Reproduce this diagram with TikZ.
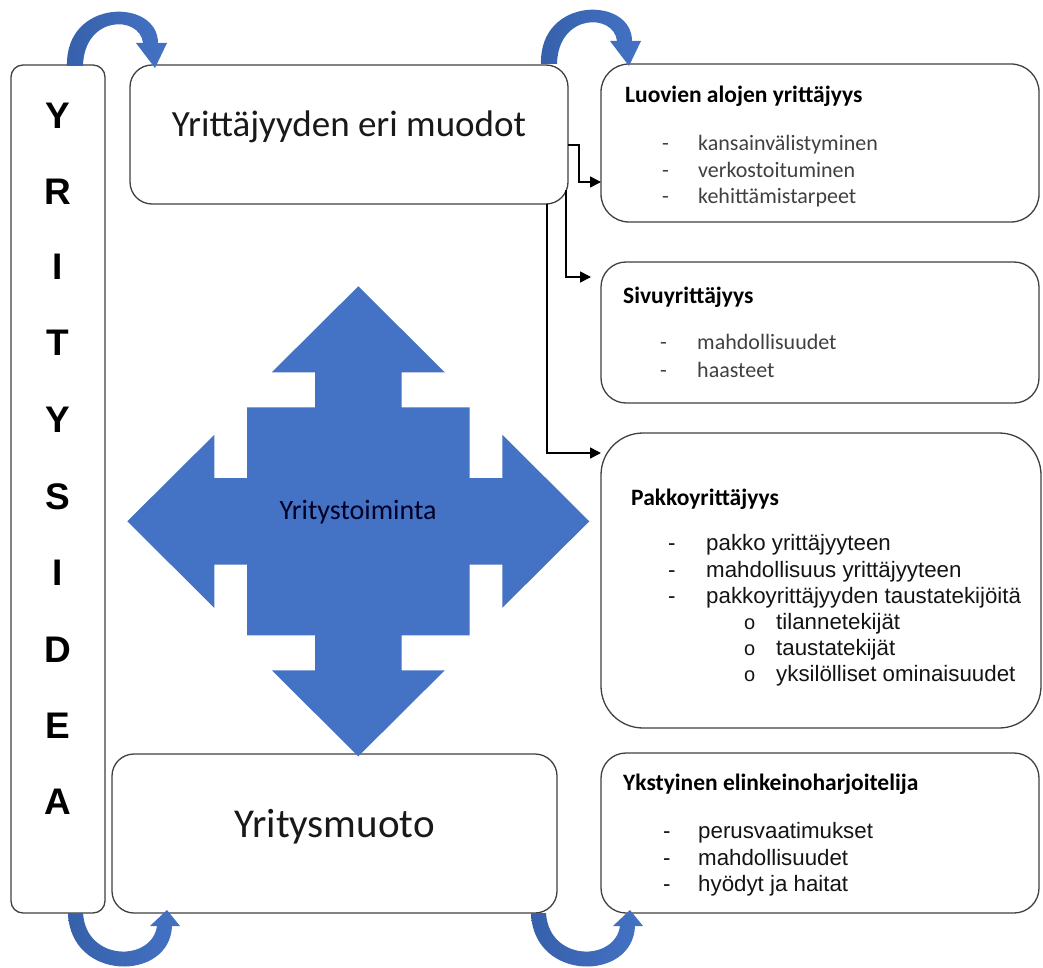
\documentclass[tikz,border=0pt]{standalone}
\usepackage{fontspec}
\setmainfont{Carlito}
\newfontfamily\arialf{Liberation Sans}
\usetikzlibrary{arrows.meta,calc}
\definecolor{boxgray}{HTML}{404040}
\definecolor{qblue}{HTML}{4472C4}
\definecolor{qdark}{HTML}{3660AA}
\definecolor{itemgray}{HTML}{404040}
\tikzset{
  rbox/.style={draw=boxgray, line width=1.3pt, rounded corners=#1, inner sep=0pt, outer sep=0pt, fill=white},
  conn/.style={draw=black, line width=1.6pt, -{Triangle[length=11pt,width=11pt]}},
  hd/.style={anchor=base west, inner sep=0pt, font=\bfseries\fontsize{23.5}{26}\selectfont},
  citem/.style={anchor=base west, inner sep=0pt, text=itemgray, font=\fontsize{22}{24}\selectfont},
  aitem/.style={anchor=base west, inner sep=0pt, text=black!92, font=\arialf\fontsize{22.3}{24}\selectfont},
  asub/.style={anchor=base west, inner sep=0pt, text=black!92, font=\arialf\fontsize{20}{20}\selectfont},
  letter/.style={anchor=base, inner sep=0pt, font=\arialf\bfseries\fontsize{37}{38}\selectfont},
  bigtext/.style={anchor=base, inner sep=0pt, text=black!90, font=\fontsize{#1}{#1}\selectfont},
  curv/.style={left color=qdark, right color=qblue},
}
\begin{document}
\begin{tikzpicture}[x=1pt,y=-1pt]
\useasboundingbox (0,0) rectangle (1043,968);

% boxes
\node[rbox=12, minimum width=94pt, minimum height=848pt] (idea) at (58,489) {};
\node[rbox=22, minimum width=438pt, minimum height=139pt] (muodot) at (349,134.5) {};
\node[rbox=22, minimum width=445pt, minimum height=159pt] (muoto) at (334.5,833.5) {};
\node[rbox=28, minimum width=438pt, minimum height=158pt] (luovien) at (820,143) {};
\node[rbox=25, minimum width=438pt, minimum height=141pt] (sivu) at (820,332.5) {};
\node[rbox=42, minimum width=440pt, minimum height=295pt] (pakko) at (821,580.5) {};
\node[rbox=25, minimum width=438pt, minimum height=160pt] (ykst) at (820,833) {};

% vertical word
\foreach \l/\b [count=\i] in {Y/129,R/205,I/279,T/355,Y/432,S/509,I/585,D/662,E/738,A/814}
  \node[letter] (let\i) at (58,\b) {\l};

% main texts
\node[bigtext=37] (tmuodot) at (349,137) {Yrittäjyyden eri muodot};
\node[bigtext=41] (tmuoto) at (334.5,837) {Yritysmuoto};

% connectors
\draw[conn] ([yshift=-10.5pt]muodot.east) -- ++(11,0) |- ([yshift=-39pt]luovien.west);
\draw[conn] ([xshift=-2pt,yshift=13.5pt]muodot.south east) |- ([xshift=-10pt,yshift=55.5pt]sivu.west);
\draw[conn] ([xshift=198pt]muodot.south) |- ([yshift=127.5pt]pakko.west);

% quad arrow
\begin{scope}[shift={(358.3,521.3)}]
\fill[qblue] (0,-235) -- (86.5,-149) -- (43.3,-149) -- (43.3,-114) -- (111.3,-114) -- (111.3,-43.3)
  -- (144,-43.3) -- (144,-86.5) -- (231,0) -- (144,86.5) -- (144,43.3) -- (111.3,43.3)
  -- (111.3,114) -- (43.3,114) -- (43.3,149) -- (86.5,149) -- (0,235) -- (-86.5,149)
  -- (-43.3,149) -- (-43.3,114) -- (-111.3,114) -- (-111.3,43.3) -- (-144,43.3) -- (-144,86.5)
  -- (-231,0) -- (-144,-86.5) -- (-144,-43.3) -- (-111.3,-43.3) -- (-111.3,-114) -- (-43.3,-114)
  -- (-43.3,-149) -- (-86.5,-149) -- cycle;
\end{scope}
\node[bigtext=28, text=black!85!blue] (ttoim) at (358,519) {Yritystoiminta};

% curved arrows
\shade[curv] (67,66) .. controls (65,-2) and (158,-2) .. (158,43) -- (167,43) -- (155,68) -- (136,43)
  -- (143,43) .. controls (140,15) and (84,15) .. (83,66) -- cycle;
\begin{scope}[shift={(474,-2)}]
\shade[curv] (67,66) .. controls (65,-2) and (158,-2) .. (158,43) -- (167,43) -- (155,68) -- (136,43)
  -- (143,43) .. controls (140,15) and (84,15) .. (83,66) -- cycle;
\end{scope}
\shade[curv] (68,913) .. controls (70,982) and (170,982) .. (172,926) -- (180,926) -- (167,910) -- (150,926)
  -- (157,926) .. controls (152,962) and (86,962) .. (83,913) -- cycle;
\begin{scope}[shift={(463,0)}]
\shade[curv] (68,913) .. controls (70,982) and (170,982) .. (172,926) -- (180,926) -- (167,910) -- (150,926)
  -- (157,926) .. controls (152,962) and (86,962) .. (83,913) -- cycle;
\end{scope}

% Luovien
\node[hd] (h1) at (625,103) {Luovien alojen yrittäjyys};
\node[citem] (d11) at (662,151) {-};
\node[citem] (i11) at (698,151) {kansainvälistyminen};
\node[citem] (d12) at (662,177.5) {-};
\node[citem] (i12) at (698,177.5) {verkostoituminen};
\node[citem] (d13) at (662,204) {-};
\node[citem] (i13) at (698,204) {kehittämistarpeet};

% Sivu
\node[hd] (h2) at (623,303) {Sivuyrittäjyys};
\node[citem] (d21) at (660,349.5) {-};
\node[citem] (i21) at (697,349.5) {mahdollisuudet};
\node[citem] (d22) at (660,377) {-};
\node[citem] (i22) at (697,377) {haasteet};

% Pakko
\node[hd] (h3) at (631,505) {Pakkoyrittäjyys};
\node[aitem] (d31) at (668,550) {-};
\node[aitem] (i31) at (706,550) {pakko yrittäjyyteen};
\node[aitem] (d32) at (668,577) {-};
\node[aitem] (i32) at (706,577) {mahdollisuus yrittäjyyteen};
\node[aitem] (d33) at (668,603.5) {-};
\node[aitem] (i33) at (706,603.5) {pakkoyrittäjyyden taustatekijöitä};
\node[asub] (o1) at (744,629.5) {o};
\node[aitem] (s1) at (776,629.5) {tilannetekijät};
\node[asub] (o2) at (744,655) {o};
\node[aitem] (s2) at (776,655) {taustatekijät};
\node[asub] (o3) at (744,681) {o};
\node[aitem] (s3) at (776,681) {yksilölliset ominaisuudet};

% Ykstyinen
\node[hd] (h4) at (623,790) {Ykstyinen elinkeinoharjoitelija};
\node[aitem] (d41) at (663,838.5) {-};
\node[aitem] (i41) at (698,838.5) {perusvaatimukset};
\node[aitem] (d42) at (663,865) {-};
\node[aitem] (i42) at (698,865) {mahdollisuudet};
\node[aitem] (d43) at (663,891) {-};
\node[aitem] (i43) at (698,891) {hyödyt ja haitat};
\end{tikzpicture}
\end{document}
